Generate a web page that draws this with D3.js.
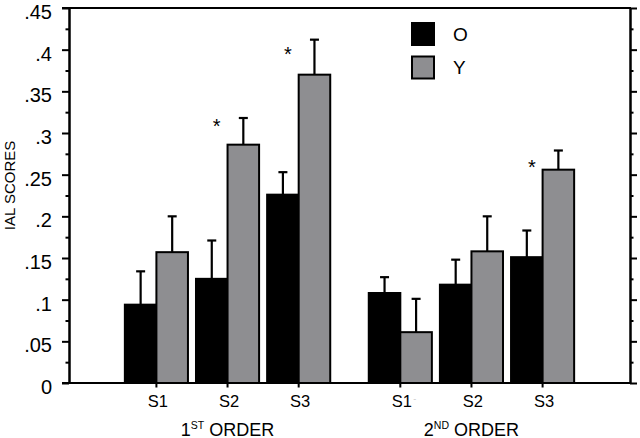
<!DOCTYPE html>
<html>
<head>
<meta charset="utf-8">
<script src="https://cdn.jsdelivr.net/npm/d3@7/dist/d3.min.js"></script>
<style>
  html, body { margin: 0; padding: 0; background: #fff; }
  svg { display: block; font-family: "Liberation Sans", Arial, sans-serif; }
</style>
</head>
<body>
<svg id="chart" width="640" height="438"></svg>
<script>
// ---- data ----
const groupNumbers = ["1", "2"];
const groupSuffixes = ["ST", "ND"];
const groupWord = "ORDER";
const subjects = ["S1", "S2", "S3"];
const seriesNames = ["O", "Y"];
const oValues = [0.094, 0.125, 0.226, 0.108, 0.118, 0.151];
const oErrors = [0.040, 0.046, 0.027, 0.019, 0.030, 0.032];
const yValues = [0.157, 0.286, 0.370, 0.061, 0.158, 0.256];
const yErrors = [0.043, 0.032, 0.042, 0.040, 0.042, 0.023];
const sigMarks = [null, 0.3136, 0.3996, null, null, 0.2644];
const yTickValues = [0, 0.05, 0.1, 0.15, 0.2, 0.25, 0.3, 0.35, 0.4, 0.45];
const yTickLabels = ["0", ".05", ".1", ".15", ".2", ".25", ".3", ".35", ".4", ".45"];
const yMinorTicks = [0.025, 0.075, 0.125, 0.175, 0.225, 0.275, 0.325, 0.375, 0.425];
const yTitle = "IAL SCORES";

// ---- layout ----
const W = 640, H = 438;
const margin = { left: 69, top: 8, right: 10, bottom: 55 };
const x0 = margin.left, x1 = W - margin.right;
const yTop = margin.top, yBot = H - margin.bottom;
const colors = { O: "#000000", Y: "#8e8e91" };

const svg = d3.select("#chart");

const y = d3.scaleLinear().domain([0, 0.45]).range([yBot, yTop]);

const groupIdx = [0, 1];
const xGroup = d3.scaleBand().domain(groupIdx).range([x0, x1])
  .paddingInner(0.158).paddingOuter(0.229);
const xSubj = d3.scaleBand().domain(subjects).range([0, xGroup.bandwidth()])
  .paddingInner(0.113).paddingOuter(0);
const xSer = d3.scaleBand().domain(seriesNames).range([0, xSubj.bandwidth()]).padding(0);

const records = [];
groupIdx.forEach(g => {
  subjects.forEach((s, si) => {
    const i = g * 3 + si;
    records.push({ g, s, i, series: "O", v: oValues[i], e: oErrors[i] });
    records.push({ g, s, i, series: "Y", v: yValues[i], e: yErrors[i] });
  });
});
const barX = d => xGroup(d.g) + xSubj(d.s) + xSer(d.series);
const bw = xSer.bandwidth();

// bars
svg.append("g").selectAll("rect").data(records).join("rect")
  .attr("x", barX)
  .attr("y", d => y(d.v))
  .attr("width", bw)
  .attr("height", d => y(0) - y(d.v))
  .attr("fill", d => colors[d.series])
  .attr("stroke", "#000")
  .attr("stroke-width", 2);

// error bars
const eb = svg.append("g").attr("stroke", "#000").attr("stroke-width", 2.2);
eb.selectAll("line.v").data(records).join("line").attr("class", "v")
  .attr("x1", d => barX(d) + bw / 2).attr("x2", d => barX(d) + bw / 2)
  .attr("y1", d => y(d.v)).attr("y2", d => y(d.v + d.e));
eb.selectAll("line.c").data(records).join("line").attr("class", "c")
  .attr("x1", d => barX(d) + bw / 2 - 4.5).attr("x2", d => barX(d) + bw / 2 + 4.5)
  .attr("y1", d => y(d.v + d.e)).attr("y2", d => y(d.v + d.e));

// significance asterisks
const sigData = sigMarks.map((m, i) => ({ m, i, g: Math.floor(i / 3), s: subjects[i % 3] }))
  .filter(d => d.m !== null);
svg.append("g").selectAll("text").data(sigData).join("text")
  .attr("x", d => xGroup(d.g) + xSubj(d.s) + xSer("O") + bw / 2 + 5)
  .attr("y", d => y(d.m) + 11)
  .attr("text-anchor", "middle")
  .attr("font-size", 20)
  .text("*");

// axes
const fmt = v => yTickLabels[yTickValues.indexOf(v)];
const leftAxis = svg.append("g").attr("transform", `translate(${x0},0)`)
  .call(d3.axisLeft(y).tickValues(yTickValues).tickFormat(fmt).tickSize(7).tickSizeOuter(0).tickPadding(10));
leftAxis.selectAll("text").attr("font-size", 20).attr("fill", "#000")
  .attr("font-family", "Liberation Sans, Arial, sans-serif").attr("y", 4);
const leftMinor = svg.append("g").attr("transform", `translate(${x0},0)`)
  .call(d3.axisLeft(y).tickValues(yMinorTicks).tickFormat("").tickSize(3.5).tickSizeOuter(0));
const rightAxis = svg.append("g").attr("transform", `translate(${x1},0)`)
  .call(d3.axisRight(y).tickValues(yTickValues).tickFormat("").tickSize(7).tickSizeOuter(0));
const rightMinor = svg.append("g").attr("transform", `translate(${x1},0)`)
  .call(d3.axisRight(y).tickValues(yMinorTicks).tickFormat("").tickSize(3.5).tickSizeOuter(0));
[leftAxis, leftMinor, rightAxis, rightMinor].forEach(a => {
  a.selectAll("path.domain").attr("stroke", "#000").attr("stroke-width", 2);
  a.selectAll(".tick line").attr("stroke", "#000").attr("stroke-width", 2);
});

// top and bottom frame lines
svg.append("line").attr("x1", x0 - 7).attr("x2", x1 + 1).attr("y1", y(0.45)).attr("y2", y(0.45))
  .attr("stroke", "#000").attr("stroke-width", 2);
svg.append("line").attr("x1", x0 - 7).attr("x2", x1 + 1).attr("y1", y(0)).attr("y2", y(0))
  .attr("stroke", "#000").attr("stroke-width", 2);

// x ticks and labels
const subjRecords = [];
groupIdx.forEach(g => subjects.forEach(s => subjRecords.push({ g, s })));
const cx = d => xGroup(d.g) + xSubj(d.s) + xSubj.bandwidth() / 2;
svg.append("g").selectAll("line").data(subjRecords).join("line")
  .attr("x1", cx).attr("x2", cx).attr("y1", y(0)).attr("y2", y(0) + 4.5)
  .attr("stroke", "#000").attr("stroke-width", 2);
svg.append("g").selectAll("text").data(subjRecords).join("text")
  .attr("x", d => cx(d) + 1.5).attr("y", y(0) + 23.5)
  .attr("text-anchor", "middle").attr("font-size", 16.5)
  .text(d => d.s);
// faint stray dash next to the second-order S1 label (as in the source image)
svg.append("text")
  .attr("x", cx({ g: 1, s: "S1" }) + 13).attr("y", y(0) + 19)
  .attr("font-size", 9).attr("fill", "#c8c8c8").text("-");

// group labels
const gl = svg.append("g").selectAll("text").data(groupIdx).join("text")
  .attr("x", g => xGroup(g) + xGroup.bandwidth() / 2)
  .attr("y", y(0) + 52.5)
  .attr("text-anchor", "middle").attr("font-size", 18);
gl.append("tspan").text(g => groupNumbers[g]);
gl.append("tspan").attr("font-size", 10.5).attr("dy", -6.5).text(g => groupSuffixes[g]);
gl.append("tspan").attr("dy", 6.5).text(" " + groupWord);

// y title
svg.append("text")
  .attr("transform", `translate(15,${(yTop + yBot) / 2 - 10}) rotate(-90)`)
  .attr("text-anchor", "middle").attr("font-size", 15)
  .text(yTitle);

// legend
const lg = svg.append("g").selectAll("g").data(seriesNames).join("g")
  .attr("transform", (d, i) => `translate(412,${23 + i * 33.5})`);
lg.append("rect").attr("width", 22).attr("height", 22)
  .attr("fill", d => colors[d]).attr("stroke", "#000").attr("stroke-width", 2);
lg.append("text").attr("x", 41).attr("y", 11).attr("dy", "0.36em")
  .attr("font-size", 19).text(d => d);
</script>
</body>
</html>
